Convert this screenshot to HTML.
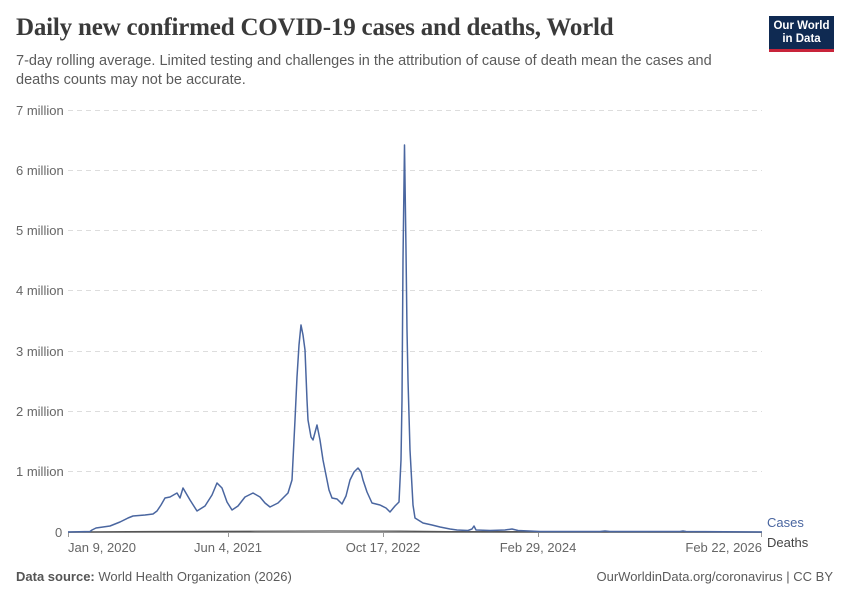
<!DOCTYPE html>
<html><head><meta charset="utf-8"><style>
body{margin:0;width:850px;height:600px;background:#fff;font-family:"Liberation Sans",sans-serif;position:relative;overflow:hidden}
.t{position:absolute;left:16px;top:14px;font-family:"Liberation Serif",serif;font-size:25px;font-weight:bold;color:#3a3a3a;letter-spacing:-0.2px}
.s{position:absolute;left:16px;top:52px;font-size:14.5px;color:#5b5b5b;line-height:19px;width:730px}
.logo{position:absolute;left:769px;top:16px;width:65px;height:36px;background:#0f2a52;border-bottom:3px solid #c8243a;color:#fff;font-size:11.5px;font-weight:bold;text-align:center;line-height:13px;box-sizing:border-box;padding-top:4px}
.f{position:absolute;top:569px;font-size:13px;color:#5b5b5b}
</style></head><body>
<div class="t">Daily new confirmed COVID-19 cases and deaths, World</div>
<div class="s">7-day rolling average. Limited testing and challenges in the attribution of cause of death mean the cases and deaths counts may not be accurate.</div>
<div class="logo">Our World<br>in Data</div>
<svg width="850" height="600" style="position:absolute;left:0;top:0" font-family="Liberation Sans, sans-serif">
<g stroke="#ddd" stroke-dasharray="5,4" stroke-width="1">
<line x1="68" x2="762" y1="110.5" y2="110.5"/><line x1="68" x2="762" y1="170.5" y2="170.5"/><line x1="68" x2="762" y1="230.5" y2="230.5"/><line x1="68" x2="762" y1="290.5" y2="290.5"/><line x1="68" x2="762" y1="351.5" y2="351.5"/><line x1="68" x2="762" y1="411.5" y2="411.5"/><line x1="68" x2="762" y1="471.5" y2="471.5"/>
</g>
<g font-size="13" fill="#666">
<text x="16" y="115">7 million</text><text x="16" y="175">6 million</text><text x="16" y="235">5 million</text><text x="16" y="295">4 million</text><text x="16" y="356">3 million</text><text x="16" y="416">2 million</text><text x="16" y="476">1 million</text><text x="55" y="537">0</text>
<text x="68" y="552">Jan 9, 2020</text><text x="228" y="552" text-anchor="middle">Jun 4, 2021</text><text x="383" y="552" text-anchor="middle">Oct 17, 2022</text><text x="538" y="552" text-anchor="middle">Feb 29, 2024</text><text x="762" y="552" text-anchor="end">Feb 22, 2026</text>
</g>
<line x1="68" x2="762" y1="532.5" y2="532.5" stroke="#999"/>
<g stroke="#999"><line x1="68.5" x2="68.5" y1="532" y2="537"/><line x1="228.5" x2="228.5" y1="532" y2="537"/><line x1="383.5" x2="383.5" y1="532" y2="537"/><line x1="538.5" x2="538.5" y1="532" y2="537"/><line x1="761.5" x2="761.5" y1="532" y2="537"/></g>
<polyline fill="none" stroke="#555" stroke-width="1.3" points="68,532 150,531.5 250,531.3 330,531 400,531.2 450,531.6 762,532"/>
<polyline fill="none" stroke="#4a66a0" stroke-width="1.5" stroke-linejoin="round" points="68,532 90,531.5 92,530 96,528 110,526 120,522 128,518 133,516 145,515 153,514 157,511 161,505 165,498 170,497 177,493 180,498 183,488 190,500 197,511 205,506 212,495 217,483 222,488 227,502 232,510 238,506 245,497 253,493 260,497 265,503 270,507 278,503 285,496 288,493 292,480 295,420 297,377 299,345 301,325 303,335 305,350 307,400 308,420 311,437 313,440 317,425 320,440 323,460 325,470 329,490 332,498 337,499 342,504 346,496 350,480 354,472 358,468 361,472 363,480 367,492 372,503 380,505 386,508 390,512 395,506 399,502 401,460 402,400 403,260 404.5,145 406,250 407,330 408,380 410,450 413,505 415,518 423,523 432,525 440,527 450,529 457,530 468,530.5 472,529 474,526 476,530 490,530.5 505,530 512,529 518,530.5 540,531.5 600,531.5 605,531 610,531.5 680,531.5 683,531 686,531.5 762,532"/>
<text x="767" y="527" font-size="13" fill="#4a66a0">Cases</text>
<text x="767" y="547" font-size="13" fill="#444">Deaths</text>
</svg>
<div class="f" style="left:16px"><b style="font-weight:bold;color:#555">Data source:</b> World Health Organization (2026)</div>
<div class="f" style="right:17px">OurWorldinData.org/coronavirus | CC BY</div>
</body></html>
